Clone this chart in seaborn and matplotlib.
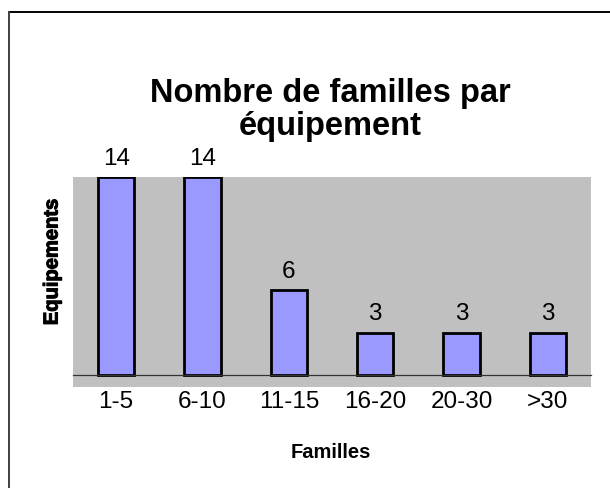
import matplotlib
matplotlib.use('Agg')
import matplotlib.pyplot as plt
import matplotlib.patheffects as pe
from matplotlib.lines import Line2D
import seaborn as sns
import pandas as pd

# Données
categories = ['1-5', '6-10', '11-15', '16-20', '20-30', '>30']
equipements = [14, 14, 6, 3, 3, 3]

data = pd.DataFrame({'familles': categories, 'equipements': equipements})

sns.set_style('white')
plt.rcParams['font.family'] = ['Liberation Sans', 'DejaVu Sans']
plt.rcParams['text.color'] = 'black'
plt.rcParams['xtick.color'] = 'black'

fig = plt.figure(figsize=(6.1, 4.89), dpi=100)
ax = fig.add_axes([73 / 610, 1 - 388 / 489, 518 / 610, 210 / 489])
ax.set_facecolor('#C0C0C0')

sns.barplot(x='familles', y='equipements', data=data, color='#9999FF',
            edgecolor='black', linewidth=2, width=0.42, saturation=1, ax=ax)

for c in ax.containers:
    ax.bar_label(c, padding=6, fontsize=17.5, color='black')

ax.set_ylim(-0.85, 14)
ax.set_xlim(-0.5, 5.5)
ax.set_yticks([])

for s in ['top', 'right', 'left']:
    ax.spines[s].set_visible(False)
ax.spines['bottom'].set_position(('data', 0))
ax.spines['bottom'].set_color('#333333')
ax.spines['bottom'].set_linewidth(0.9)

ax.set_xticks(range(len(categories)))
ax.set_xticklabels(categories, fontsize=17.5)
ax.set_xticks([i - 0.5 for i in range(len(categories) + 1)], minor=True)
ax.tick_params(axis='x', which='major', length=0, pad=11)
ax.tick_params(axis='x', which='minor', length=4, width=0.9, color='#333333', direction='out')

ax.set_xlabel('')
ax.set_ylabel('')
fig.text(331 / 610, 1 - 453 / 489, 'Familles', ha='center', va='center',
         fontsize=14.5, fontweight='bold')
fig.text(52 / 610, 1 - 263 / 489, 'Equipements', ha='center', va='center',
         rotation=90, fontsize=14.5, fontweight='bold',
         path_effects=[pe.withStroke(linewidth=0.8, foreground='black')])

fig.text(330 / 610, 1 - 110 / 489, 'Nombre de familles par\néquipement',
         ha='center', va='center', fontsize=23.5, fontweight='bold',
         linespacing=1.05)

# Cadre du graphique
y0 = 1 - 13 / 489
x0 = 9 / 610
fig.add_artist(Line2D([x0, 1], [y0, y0], transform=fig.transFigure, color='black', lw=1.4))
fig.add_artist(Line2D([x0, x0], [0, y0], transform=fig.transFigure, color='#404040', lw=1.4))

fig.savefig('out.png', dpi=100)
